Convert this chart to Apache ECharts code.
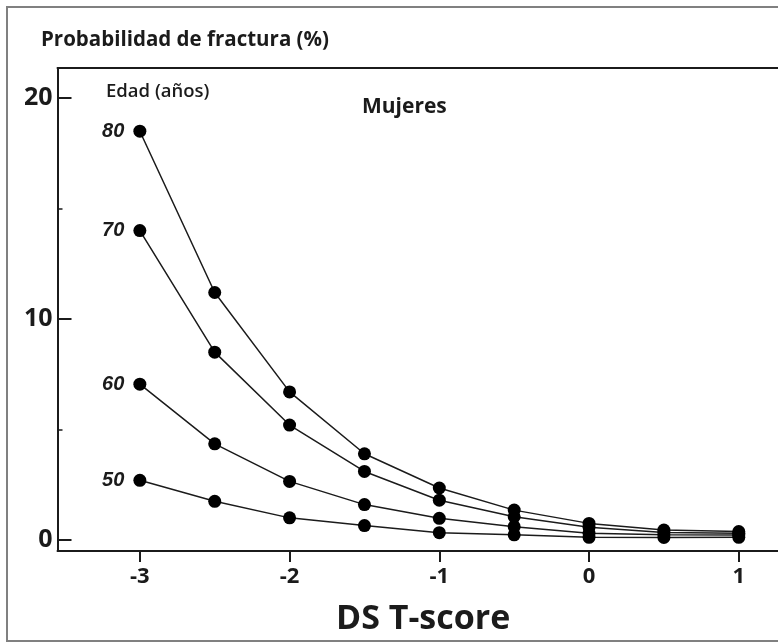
<!DOCTYPE html>
<html>
<head>
<meta charset="utf-8">
<script src="https://cdn.jsdelivr.net/npm/echarts@6/dist/echarts.min.js"></script>
<style>
  html, body { margin: 0; padding: 0; background: #fff; }
  #chart { width: 778px; height: 643px; }
</style>
</head>
<body>
<div id="chart"></div>
<script>
// T-score (DS) positions along the x axis
const tScores = [-3, -2.5, -2, -1.5, -1, -0.5, 0, 0.5, 1];

// Fracture probability (%) by age group
const edad80 = [18.5, 11.2, 6.7, 3.9, 2.35, 1.35, 0.75, 0.45, 0.38];
const edad70 = [14.0, 8.5, 5.2, 3.1, 1.8, 1.05, 0.57, 0.34, 0.30];
const edad60 = [7.05, 4.35, 2.65, 1.6, 0.98, 0.6, 0.30, 0.23, 0.22];
const edad50 = [2.7, 1.75, 1.0, 0.65, 0.33, 0.23, 0.12, 0.11, 0.12];

const ageLabels = ['80', '70', '60', '50'];

// Axis tick positions
const xTicks = [-3, -2, -1, 0, 1];
const yMajorTicks = [0, 10, 20];
const yMinorTicks = [5, 15];

const ink = '#1b1b1b';
const sans = '"Open Sans", "Noto Sans", sans-serif';

function pairs(values) {
  return tScores.map((t, i) => [t, values[i]]);
}

function ageSeries(values, age) {
  return {
    type: 'line',
    data: pairs(values),
    xAxisIndex: 0,
    yAxisIndex: 0,
    symbol: 'circle',
    symbolSize: 13,
    itemStyle: { color: '#000' },
    lineStyle: { color: ink, width: 1.5 },
    animation: false,
    label: {
      show: true,
      position: 'left',
      distance: 9,
      formatter: p => (p.dataIndex === 0 ? age : ''),
      fontFamily: '"Liberation Sans", Arial, sans-serif',
      fontStyle: 'italic',
      fontWeight: 'bold',
      fontSize: 20,
      color: ink
    }
  };
}

const chart = echarts.init(document.getElementById('chart'), null, { renderer: 'canvas' });

chart.setOption({
  backgroundColor: '#fff',
  animation: false,
  grid: { left: 57.5, right: 0, top: 68, bottom: 92, containLabel: false },
  xAxis: [
    {
      type: 'value',
      min: -3.55,
      max: 1.262,
      position: 'bottom',
      splitLine: { show: false },
      axisLine: { show: true, onZero: false, lineStyle: { color: ink, width: 2 } },
      axisTick: { show: true, inside: false, length: 11, customValues: xTicks, lineStyle: { color: ink, width: 2 } },
      axisLabel: {
        show: true, customValues: xTicks, margin: 15,
        fontFamily: sans, fontWeight: 'bold', fontSize: 22, color: ink
      }
    },
    {
      type: 'value',
      min: -3.55,
      max: 1.262,
      position: 'top',
      splitLine: { show: false },
      axisLine: { show: true, onZero: false, lineStyle: { color: ink, width: 2 } },
      axisTick: { show: false },
      axisLabel: { show: false }
    }
  ],
  yAxis: [
    {
      type: 'value',
      min: -0.5,
      max: 21.36,
      position: 'left',
      splitLine: { show: false },
      axisLine: { show: true, onZero: false, lineStyle: { color: ink, width: 2 } },
      axisTick: { show: true, inside: true, length: 14, customValues: yMajorTicks, lineStyle: { color: ink, width: 2 } },
      axisLabel: {
        show: true, customValues: yMajorTicks, margin: 5,
        fontFamily: sans, fontWeight: 'bold', fontSize: 25, color: ink
      }
    },
    {
      // short minor ticks at 5 and 15
      type: 'value',
      min: -0.5,
      max: 21.36,
      position: 'left',
      splitLine: { show: false },
      axisLine: { show: false, onZero: false },
      axisTick: { show: true, inside: true, length: 5, customValues: yMinorTicks, lineStyle: { color: ink, width: 1.5 } },
      axisLabel: { show: false }
    }
  ],
  series: [
    ageSeries(edad80, ageLabels[0]),
    ageSeries(edad70, ageLabels[1]),
    ageSeries(edad60, ageLabels[2]),
    ageSeries(edad50, ageLabels[3])
  ],
  graphic: [
    {
      type: 'rect',
      shape: { x: 7, y: 7, width: 800, height: 634 },
      style: { fill: null, stroke: '#808080', lineWidth: 2 },
      silent: true
    },
    {
      type: 'text',
      x: 41, y: 40,
      style: {
        text: 'Probabilidad de fractura (%)',
        fontFamily: sans, fontWeight: 'bold', fontSize: 20.5,
        fill: ink, verticalAlign: 'middle', align: 'left'
      }
    },
    {
      type: 'text',
      x: 106, y: 92,
      style: {
        text: 'Edad (años)',
        fontFamily: sans, fontWeight: 600, fontSize: 18.5,
        fill: ink, verticalAlign: 'middle', align: 'left'
      }
    },
    {
      type: 'text',
      x: 362, y: 107,
      style: {
        text: 'Mujeres',
        fontFamily: sans, fontWeight: 'bold', fontSize: 21,
        fill: ink, verticalAlign: 'middle', align: 'left'
      }
    },
    {
      type: 'text',
      x: 336, y: 619,
      style: {
        text: 'DS T-score',
        fontFamily: sans, fontWeight: 'bold', fontSize: 34,
        fill: ink, verticalAlign: 'middle', align: 'left'
      }
    }
  ]
});
</script>
</body>
</html>
